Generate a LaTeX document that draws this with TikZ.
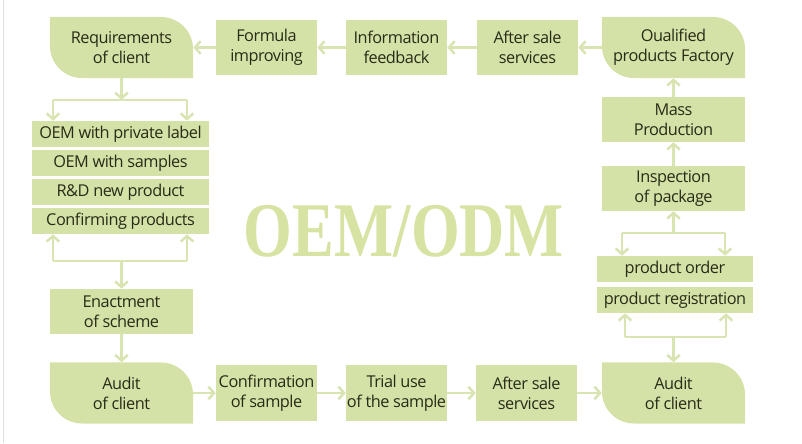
\documentclass[tikz,border=0pt]{standalone}
\usepackage{fontspec}
\setmainfont{Open Sans}[LetterSpace=-3]
\newfontfamily\titlefont{Liberation Serif}
\usetikzlibrary{arrows.meta, calc, positioning}
\definecolor{leafgreen}{HTML}{D5E2A7}
\definecolor{arrowgreen}{HTML}{D8E4B2}
\definecolor{titlegreen}{HTML}{D6E3A2}
\definecolor{inkdark}{HTML}{262C17}
\newcommand{\boxfont}{\fontsize{11.6}{14.2}\selectfont}

\begin{document}
\begin{tikzpicture}[x=0.025cm, y=0.025cm,
  box/.style={fill=leafgreen, text=inkdark, align=center, inner sep=0pt,
              minimum width=2.525cm, minimum height=1.375cm, font=\boxfont},
  mid/.style={minimum width=3.55cm, minimum height=1.125cm},
  bar/.style={box, minimum width=4.425cm, minimum height=0.65cm},
  leaf/.style={fill=white, text=inkdark, align=center, inner sep=0pt,
               minimum width=3.575cm, minimum height=1.525cm, font=\boxfont,
               path picture={\fill[leafgreen] (path picture bounding box.north west)
                 -- ([xshift=-0.8cm]path picture bounding box.north east)
                 arc[start angle=90, end angle=0, radius=0.8cm]
                 -- (path picture bounding box.south east)
                 -- ([xshift=0.8cm]path picture bounding box.south west)
                 arc[start angle=270, end angle=180, radius=0.8cm] -- cycle;}},
  link/.style={draw=arrowgreen, line width=1.8pt},
  flow/.style={link, -{Straight Barb[length=4pt, width=9pt]}}]
  \useasboundingbox (0,0) rectangle (802,443);
  \draw[black!12, line width=0.6pt] (3,0) -- (3,443);

  \node[font=\titlefont\bfseries\fontsize{55}{55}\selectfont, text=titlegreen,
        anchor=base, xscale=0.81] (title) at (404,187) {OEM/ODM};

  \node[leaf] (req)     at (121.5,395.5) {Requirements\\of client};
  \node[box]  (formula) at (266.5,395.5) {Formula\\improving};
  \node[box]  (info)    at (396.5,395.5) {Information\\feedback};
  \node[box]  (after1)  at (527.5,395.5) {After sale\\services};
  \node[leaf] (qual)    at (673.5,395.5) {Oualified\\products Factory};

  \node[bar] (oem1)    at (120.5,309) {OEM with private label};
  \node[bar] (oem2)    at (120.5,280) {OEM with samples};
  \node[bar] (rnd)     at (120.5,251) {R\&D new product};
  \node[bar] (confirm) at (120.5,222) {Confirming products};
  \node[box, mid] (enact) at (121.5,131.5) {Enactment\\of scheme};

  \node[leaf] (audit1) at (121.5,50) {Audit\\of client};
  \node[box]  (sample) at (266.5,50) {Confirmation\\of sample};
  \node[box]  (trial)  at (396.5,50) {Trial use\\of the sample};
  \node[box]  (after2) at (526.5,50) {After sale\\services};
  \node[leaf] (audit2) at (673.5,50) {Audit\\of client};

  \node[box, mid] (mass)    at (673.5,323.5) {Mass\\Production};
  \node[box, mid] (inspect) at (673.5,254.5) {Inspection\\of package};
  \node[bar, minimum width=3.9cm] (order)  at (675,174) {product order};
  \node[bar, minimum width=3.9cm] (regist) at (675,143) {product registration};

  \coordinate (lsplit)  at (121.5,343);
  \coordinate (lsplitL) at (53,343);
  \coordinate (lsplitR) at (187,343);
  \coordinate (ljoin)   at (121.5,182);
  \coordinate (ljoinL)  at (53,182);
  \coordinate (ljoinR)  at (187,182);
  \coordinate (rsplit)  at (673.5,210);
  \coordinate (rsplitL) at (622,210);
  \coordinate (rsplitR) at (725,210);
  \coordinate (rjoin)   at (673.5,106);
  \coordinate (rjoinL)  at (625,106);
  \coordinate (rjoinR)  at (726,106);

  \draw[flow] (qual) -- (after1);
  \draw[flow] (after1) -- (info);
  \draw[flow] (info) -- (formula);
  \draw[flow] (formula) -- (req);

  \draw[flow] (req) -- (lsplit);
  \draw[link] (lsplitL) -- (lsplitR);
  \draw[flow] (lsplitL) -- (lsplitL |- oem1.north);
  \draw[flow] (lsplitR) -- (lsplitR |- oem1.north);
  \draw[link] (ljoinL) -- (ljoinR);
  \draw[flow] (ljoinL) -- (ljoinL |- confirm.south);
  \draw[flow] (ljoinR) -- (ljoinR |- confirm.south);
  \draw[flow] (ljoin) -- (enact);
  \draw[flow] (enact) -- (audit1);

  \draw[flow] (audit1) -- (sample);
  \draw[flow] (sample) -- (trial);
  \draw[flow] (trial) -- (after2);
  \draw[flow] (after2) -- (audit2);

  \draw[flow] (rjoin) -- (audit2);
  \draw[link] (rjoinL) -- (rjoinR);
  \draw[flow] (rjoinL) -- (rjoinL |- regist.south);
  \draw[flow] (rjoinR) -- (rjoinR |- regist.south);
  \draw[link] (rsplitL) -- (rsplitR);
  \draw[flow] (rsplitL) -- (rsplitL |- order.north);
  \draw[flow] (rsplitR) -- (rsplitR |- order.north);
  \draw[flow] (rsplit) -- (inspect);
  \draw[flow] (inspect) -- (mass);
  \draw[flow] (mass) -- (qual);
\end{tikzpicture}
\end{document}
